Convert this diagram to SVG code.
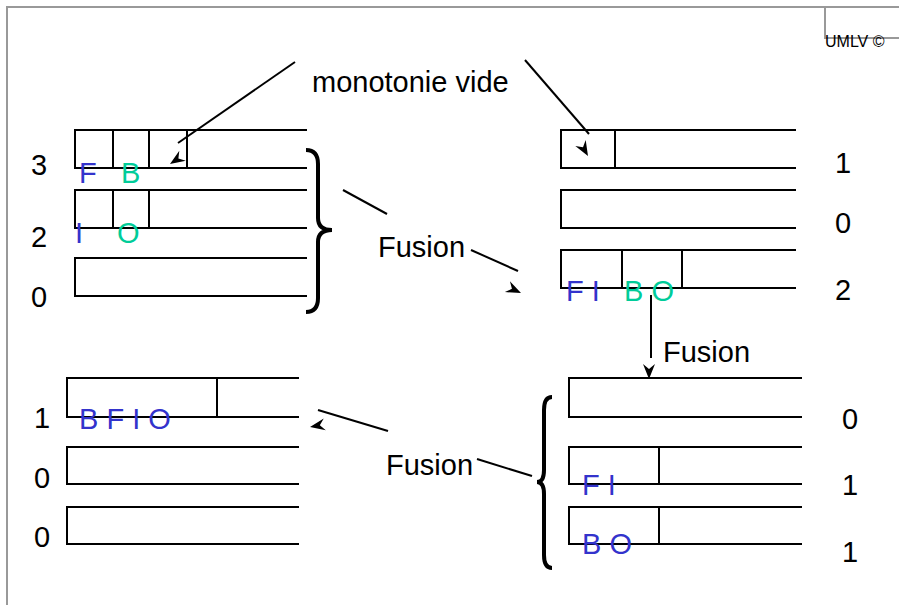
<svg xmlns="http://www.w3.org/2000/svg" width="899" height="605" viewBox="0 0 899 605">
<style>
.bd{fill:none;stroke:#999;stroke-width:2}
.ln{fill:none;stroke:#000;stroke-width:2}
.br{fill:none;stroke:#000;stroke-width:4}
.t{font-family:"Liberation Sans",Arial,sans-serif;font-size:29px;fill:#000}
.b{fill:#3333cc}
.g{fill:#00cc99}
.s{font-family:"Liberation Sans",Arial,sans-serif;font-size:16px;fill:#000}
</style>
<defs>
<path id="ah" d="M0,0 L-15,-6 L-10,0 L-15,6 Z" fill="#000"/>
</defs>
<rect width="899" height="605" fill="#fff"/>
<g id="frame">
<path class="bd" d="M7,605 V7 H899"/>
<path class="bd" d="M825,7 V38 H899"/>
<text class="s" x="825" y="47">UMLV ©</text>
</g>
<text id="label-monotonie" class="t" x="312" y="92">monotonie vide</text>
<g id="state1">
<path class="ln" d="M307,130 H75 V168 H307 M113,130 V168 M149,130 V168 M187,130 V168"/>
<path class="ln" d="M307,190 H75 V228 H307 M113,190 V228 M149,190 V228"/>
<path class="ln" d="M307,258 H75 V296 H307"/>
<text class="t" x="31" y="175">3</text>
<text class="t" x="31" y="247">2</text>
<text class="t" x="31" y="307">0</text>
<text class="t b" x="79" y="183">F</text>
<text class="t g" x="121" y="183">B</text>
<text class="t b" x="75" y="243">I</text>
<text class="t g" x="117" y="243">O</text>
<path class="br" d="M306,150 Q318,150 318,164 V218 Q318,230 332,230 Q318,230 318,242 V298 Q318,312 306,312"/>
</g>
<g id="state2">
<path class="ln" d="M796,130 H561 V168 H796 M615,130 V168"/>
<path class="ln" d="M796,190 H561 V228 H796"/>
<path class="ln" d="M796,250 H561 V288 H796 M622,250 V288 M682,250 V288"/>
<text class="t" x="835" y="173">1</text>
<text class="t" x="835" y="233">0</text>
<text class="t" x="835" y="300">2</text>
<text class="t b" x="566" y="301">F I</text>
<text class="t g" x="624" y="301">B O</text>
</g>
<g id="state3">
<path class="ln" d="M802,378 H569 V417 H802"/>
<path class="ln" d="M802,447 H569 V484 H802 M659,447 V484"/>
<path class="ln" d="M802,507 H569 V544 H802 M659,507 V544"/>
<text class="t" x="842" y="429">0</text>
<text class="t" x="842" y="495">1</text>
<text class="t" x="842" y="562">1</text>
<text class="t b" x="582" y="495">F I</text>
<text class="t b" x="582" y="554">B O</text>
<path class="br" d="M552,397 Q544,397 544,410 V470 Q544,482 537,482 Q544,482 544,494 V555 Q544,568 552,568"/>
</g>
<g id="state4">
<path class="ln" d="M299,378 H67 V417 H299 M217,378 V417"/>
<path class="ln" d="M299,447 H67 V484 H299"/>
<path class="ln" d="M299,507 H67 V544 H299"/>
<text class="t" x="34" y="428">1</text>
<text class="t" x="34" y="488">0</text>
<text class="t" x="34" y="547">0</text>
<text class="t b" x="79" y="429">B F I O</text>
</g>
<text id="label-fusion1" class="t" x="378" y="257">Fusion</text>
<text id="label-fusion2" class="t" x="663" y="362">Fusion</text>
<text id="label-fusion3" class="t" x="386" y="475">Fusion</text>
<g id="connectors">
<path class="ln" d="M295,62 L178,143"/>
<use href="#ah" transform="translate(170,164) rotate(147)"/>
<path class="ln" d="M525,60 L589,134"/>
<use href="#ah" transform="translate(588,156) rotate(60)"/>
<path class="ln" d="M343,190 L387,214"/>
<path class="ln" d="M471,250 L518,271"/>
<use href="#ah" transform="translate(521,293) rotate(25)"/>
<path class="ln" d="M651,295 V358"/>
<use href="#ah" transform="translate(649,379) rotate(90)"/>
<path class="ln" d="M318,410 L388,431"/>
<use href="#ah" transform="translate(310,427) rotate(170)"/>
<path class="ln" d="M477,459 L532,476"/>
</g>
</svg>
